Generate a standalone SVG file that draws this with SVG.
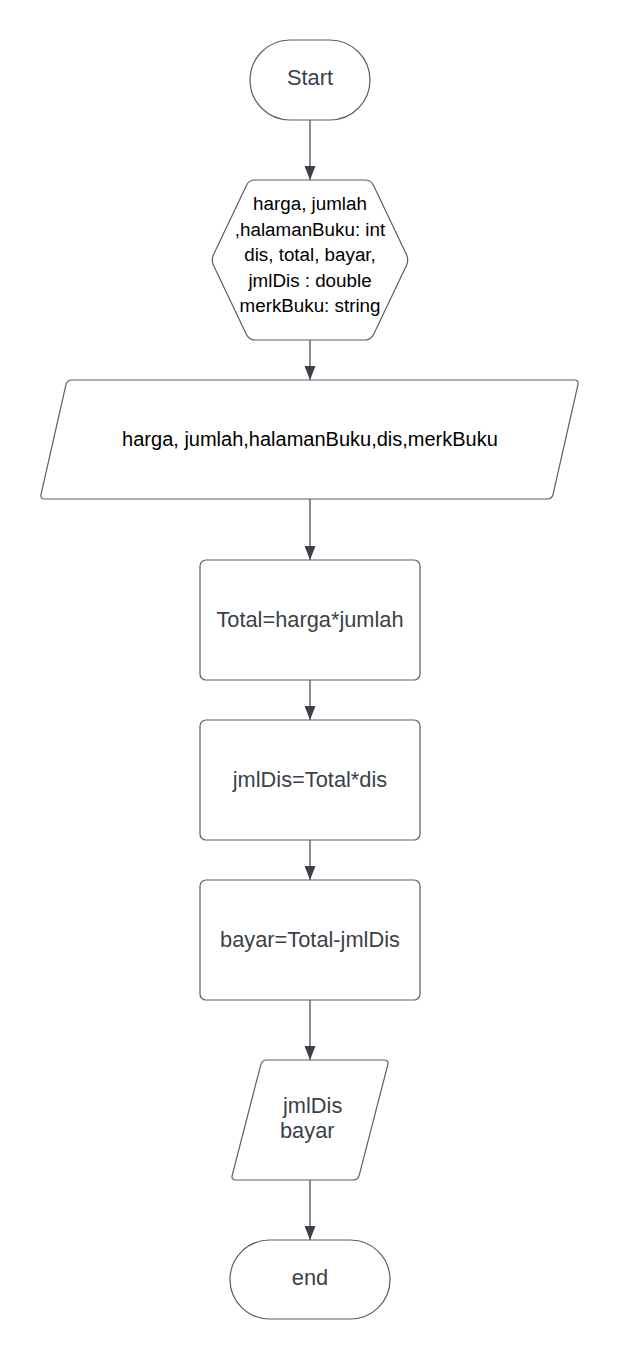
<svg xmlns="http://www.w3.org/2000/svg" width="620" height="1360" viewBox="0 0 620 1360">
  <defs>
    <marker id="arrow" markerUnits="userSpaceOnUse" viewBox="0 0 14 11" refX="14" refY="5.5" markerWidth="14" markerHeight="11" orient="auto">
      <path d="M0,0 L14,5.5 L0,11 Z" fill="#3a414a"/>
    </marker>
    <style>
      .shape { fill: #ffffff; stroke: #5e5e5e; stroke-width: 1.2; }
      .conn { fill: none; stroke: #3a414a; stroke-width: 1.2; marker-end: url(#arrow); }
      .t { font-family: "Liberation Sans", Arial, sans-serif; font-size: 21.8px; fill: #3a414a; text-anchor: middle; }
      .tb { font-family: "Liberation Sans", Arial, sans-serif; fill: #000000; text-anchor: middle; }
    </style>
  </defs>
  <rect width="620" height="1360" fill="#ffffff"/>

  <g id="connectors">
    <line class="conn" x1="310" y1="120" x2="310" y2="180"/>
    <line class="conn" x1="310" y1="340" x2="310" y2="380"/>
    <line class="conn" x1="310" y1="499" x2="310" y2="560"/>
    <line class="conn" x1="310" y1="680" x2="310" y2="720"/>
    <line class="conn" x1="310" y1="840" x2="310" y2="880"/>
    <line class="conn" x1="310" y1="1000" x2="310" y2="1060"/>
    <line class="conn" x1="310" y1="1180" x2="310" y2="1240"/>
  </g>

  <g id="start">
    <rect class="shape" x="250" y="40" width="120" height="80" rx="40" ry="40"/>
    <text class="t" x="310" y="85">Start</text>
  </g>

  <g id="declare">
    <path class="shape" d="M255,180 H365 Q371,180 373.57,185.42 L406.43,254.58 Q409,260 406.43,265.42 L373.57,334.58 Q371,340 365,340 H255 Q249,340 246.43,334.58 L213.57,265.42 Q211,260 213.57,254.58 L246.43,185.42 Q249,180 255,180 Z"/>
    <text class="tb" font-size="18.8" x="310" y="210">harga, jumlah</text>
    <text class="tb" font-size="18.8" x="310" y="235.5">,halamanBuku: int</text>
    <text class="tb" font-size="18.8" x="310" y="261">dis, total, bayar,</text>
    <text class="tb" font-size="18.8" x="310" y="286.5">jmlDis : double</text>
    <text class="tb" font-size="18.8" x="310" y="312">merkBuku: string</text>
  </g>

  <g id="input">
    <path class="shape" d="M72,380 H574 Q579,380 577.9,384.9 L553.1,494.1 Q552,499 547,499 H45 Q40,499 41.1,494.1 L65.9,384.9 Q67,380 72,380 Z"/>
    <text class="tb" font-size="20" x="310" y="446">harga, jumlah,halamanBuku,dis,merkBuku</text>
  </g>

  <g id="total">
    <rect class="shape" x="200" y="560" width="220" height="120" rx="6" ry="6"/>
    <text class="t" x="310" y="627">Total=harga*jumlah</text>
  </g>

  <g id="jmldis">
    <rect class="shape" x="200" y="720" width="220" height="120" rx="6" ry="6"/>
    <text class="t" x="310" y="787">jmlDis=Total*dis</text>
  </g>

  <g id="bayar">
    <rect class="shape" x="200" y="880" width="220" height="120" rx="6" ry="6"/>
    <text class="t" x="310" y="947">bayar=Total-jmlDis</text>
  </g>

  <g id="output">
    <path class="shape" d="M267,1060 H384 Q389,1060 387.75,1064.84 L359.25,1175.16 Q358,1180 353,1180 H236 Q231,1180 232.25,1175.16 L260.75,1064.84 Q262,1060 267,1060 Z"/>
    <text class="t" style="text-anchor:start" x="283" y="1113">jmlDis</text>
    <text class="t" style="text-anchor:start" x="280" y="1138">bayar</text>
  </g>

  <g id="end">
    <rect class="shape" x="230" y="1240" width="160" height="79" rx="39.5" ry="39.5"/>
    <text class="t" x="310" y="1285">end</text>
  </g>
</svg>
